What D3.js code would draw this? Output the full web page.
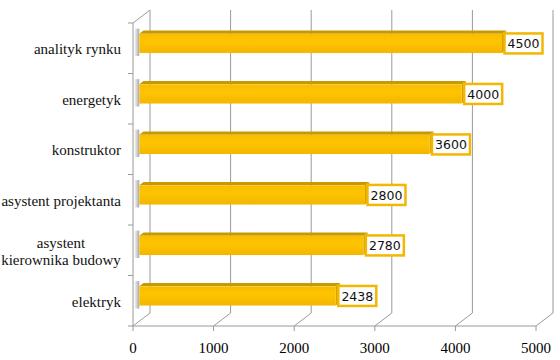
<!DOCTYPE html>
<html>
<head>
<meta charset="utf-8" />
<title>Wynagrodzenia</title>
<script src="https://d3js.org/d3.v7.min.js"></script>
<style>
  body { margin: 0; background: #ffffff; }
  svg { display: block; }
</style>
</head>
<body>
<svg id="viz"></svg>
<script>

// data
var categories = ["analityk rynku", "energetyk", "konstruktor", "asystent projektanta", "asystent\nkierownika budowy", "elektryk"];
var values = [4500, 4000, 3600, 2800, 2780, 2438];
var xTicks = [0, 1000, 2000, 3000, 4000, 5000];

var width = 560, height = 360;

var svg = d3.select("#viz")
  .attr("width", width)
  .attr("height", height);

// front plane scales, depth goes up-right
var x = d3.scaleLinear().domain([0, 5000]).range([133, 536]);
var y = d3.scaleBand().domain(categories).range([23, 326])
  .paddingInner(0.62).paddingOuter(0.31);

var depthX = 17, depthY = -13;
function P(px, py, d) { return [px + d * depthX, py + d * depthY]; }

var gridColor = "#9a9a9a";

// shadow gradient on left wall
var defs = svg.append("defs");
var grad = defs.append("linearGradient").attr("id", "wallShade")
  .attr("x1", 0).attr("x2", 1).attr("y1", 0).attr("y2", 0);
grad.append("stop").attr("offset", "0%").attr("stop-color", "#ffffff");
grad.append("stop").attr("offset", "100%").attr("stop-color", "#a8a8a8");

var frontGrad = defs.append("linearGradient").attr("id", "barFront")
  .attr("x1", 0).attr("x2", 0).attr("y1", 0).attr("y2", 1);
frontGrad.append("stop").attr("offset", "0%").attr("stop-color", "#f7bd00");
frontGrad.append("stop").attr("offset", "40%").attr("stop-color", "#ffc400");
frontGrad.append("stop").attr("offset", "100%").attr("stop-color", "#f2b700");

// back wall gridlines
svg.append("g").selectAll("line").data(xTicks).enter().append("line")
  .attr("x1", function(d) { return P(x(d), 23, 1)[0]; })
  .attr("y1", function(d) { return P(x(d), 23, 1)[1]; })
  .attr("x2", function(d) { return P(x(d), 326, 1)[0]; })
  .attr("y2", function(d) { return P(x(d), 326, 1)[1]; })
  .attr("stroke", gridColor).attr("stroke-width", 1);

// floor diagonals
svg.append("g").selectAll("line").data(xTicks).enter().append("line")
  .attr("x1", function(d) { return x(d); })
  .attr("y1", 326)
  .attr("x2", function(d) { return P(x(d), 326, 1)[0]; })
  .attr("y2", function(d) { return P(x(d), 326, 1)[1]; })
  .attr("stroke", gridColor).attr("stroke-width", 1);

// left wall
svg.append("line").attr("x1", x(0)).attr("y1", 23).attr("x2", x(0)).attr("y2", 326)
  .attr("stroke", gridColor);
svg.append("line").attr("x1", x(0)).attr("y1", 23)
  .attr("x2", P(x(0), 23, 1)[0]).attr("y2", P(x(0), 23, 1)[1])
  .attr("stroke", gridColor);

// front baseline
svg.append("line").attr("x1", x(0)).attr("y1", 326).attr("x2", x(5000)).attr("y2", 326)
  .attr("stroke", gridColor);

// x ticks
svg.append("g").selectAll("line").data(xTicks).enter().append("line")
  .attr("x1", function(d) { return x(d); }).attr("x2", function(d) { return x(d); })
  .attr("y1", 326).attr("y2", 331)
  .attr("stroke", gridColor);

// y ticks at band boundaries
var bounds = categories.map(function(c) { return y(c) - y.step() * y.paddingInner() / 2; });
bounds.push(326);
svg.append("g").selectAll("line").data(bounds).enter().append("line")
  .attr("x1", x(0) - 5).attr("x2", x(0))
  .attr("y1", function(d) { return d; }).attr("y2", function(d) { return d; })
  .attr("stroke", gridColor);

// x tick labels
svg.append("g").selectAll("text").data(xTicks).enter().append("text")
  .attr("x", function(d) { return x(d); })
  .attr("y", 353)
  .attr("text-anchor", "middle")
  .style("font-family", "'Liberation Serif', 'Times New Roman', serif")
  .style("font-size", "15px")
  .text(function(d) { return d; });

// bars
var f1 = 0.37, f2 = 0.62;
var bars = svg.append("g").selectAll("g").data(categories).enter().append("g");

bars.each(function(c, i) {
  var g = d3.select(this);
  var v = values[i];
  var yt = y(c), yb = y(c) + y.bandwidth();
  var a = P(x(0), yt, f1), b = P(x(v), yt, f1), bb = P(x(v), yb, f1), ab = P(x(0), yb, f1);
  var a2 = P(x(0), yt, f2), b2 = P(x(v), yt, f2), bb2 = P(x(v), yb, f2);

  // shadow on wall
  g.append("rect")
    .attr("x", x(0) + 1).attr("y", a2[1] - 2)
    .attr("width", a[0] - x(0) - 1).attr("height", ab[1] - a2[1] + 5)
    .attr("fill", "url(#wallShade)");

  // top face
  g.append("polygon")
    .attr("points", [a, b, b2, a2].map(function(p) { return p.join(","); }).join(" "))
    .attr("fill", "#c99a00");
  // end face
  g.append("polygon")
    .attr("points", [b, b2, bb2, bb].map(function(p) { return p.join(","); }).join(" "))
    .attr("fill", "#d6a400");
  // front face
  g.append("rect")
    .attr("x", a[0]).attr("y", a[1])
    .attr("width", b[0] - a[0]).attr("height", ab[1] - a[1])
    .attr("fill", "url(#barFront)");

  // value label box
  var cy = (a[1] + ab[1]) / 2;
  g.append("rect")
    .attr("x", b[0] + 2.5).attr("y", cy - 10)
    .attr("width", 38).attr("height", 20)
    .attr("fill", "#ffffff")
    .attr("stroke", "#f2b700").attr("stroke-width", 2.5);
  g.append("text")
    .attr("x", b[0] + 21.5).attr("y", cy + 5)
    .attr("text-anchor", "middle")
    .style("font-family", "'DejaVu Sans', Verdana, sans-serif")
    .style("font-size", "12.5px")
    .attr("fill", "#111")
    .text(v);
});

// category labels
var labels = svg.append("g").selectAll("text").data(categories).enter().append("text")
  .style("font-family", "'Liberation Serif', 'Times New Roman', serif")
  .style("font-size", "15px")
  .attr("fill", "#111");

labels.each(function(c) {
  var t = d3.select(this);
  var lines = c.split("\n");
  var cy = y(c) + y.bandwidth() / 2 + 1;
  if (lines.length === 1) {
    t.attr("x", 121).attr("y", cy + 5).attr("text-anchor", "end").text(c);
  } else {
    t.attr("text-anchor", "middle");
    lines.forEach(function(l, k) {
      t.append("tspan").attr("x", 0).attr("y", cy + 5 + (k - (lines.length - 1) / 2) * 17).text(l);
    });
    var bbox = this.getBBox();
    t.selectAll("tspan").attr("x", 121 - bbox.width / 2);
  }
});

</script>
</body>
</html>
